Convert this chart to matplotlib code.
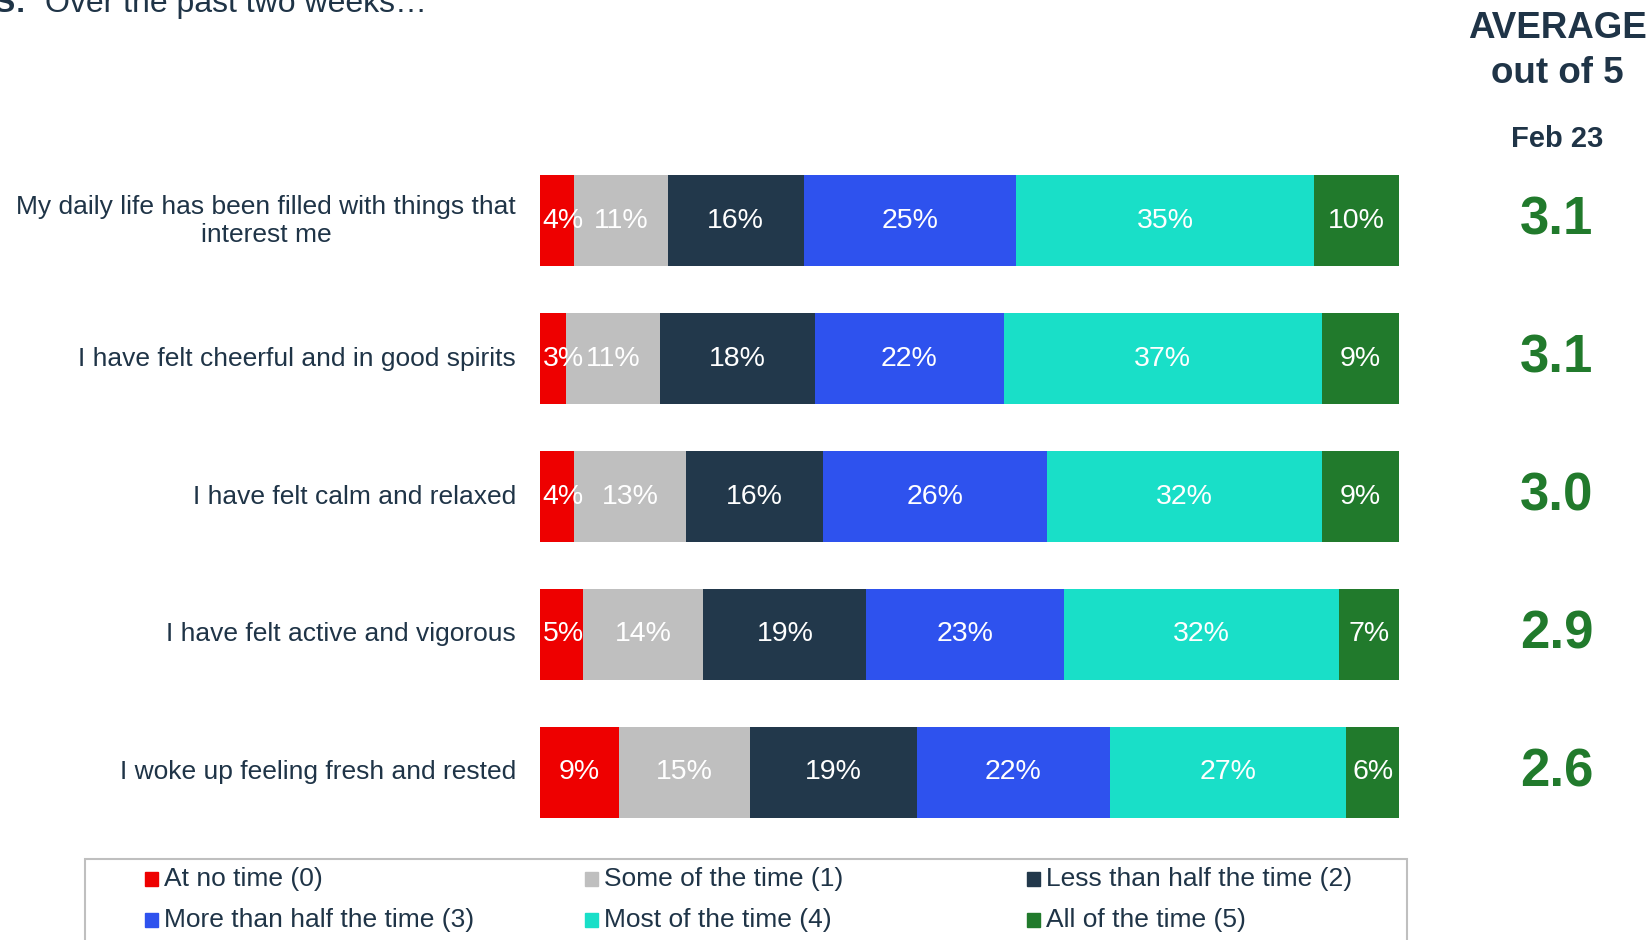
import matplotlib.pyplot as plt
import matplotlib.transforms as mtransforms
from matplotlib.patches import Rectangle

plt.rcParams['font.family'] = ['Liberation Sans', 'DejaVu Sans']

statements = [
    "My daily life has been filled with things that\ninterest me",
    "I have felt cheerful and in good spirits",
    "I have felt calm and relaxed",
    "I have felt active and vigorous",
    "I woke up feeling fresh and rested",
]
responses = [
    "At no time (0)", "Some of the time (1)", "Less than half the time (2)",
    "More than half the time (3)", "Most of the time (4)", "All of the time (5)",
]
at_no_time = [4, 3, 4, 5, 9]
some_time = [11, 11, 13, 14, 15]
less_half = [16, 18, 16, 19, 19]
more_half = [25, 22, 26, 23, 22]
most_time = [35, 37, 32, 32, 27]
all_time = [10, 9, 9, 7, 6]
averages = [3.1, 3.1, 3.0, 2.9, 2.6]

colors = ['#EE0000', '#BFBFBF', '#22384B', '#2E52EE', '#19DFC8', '#217A2C']
navy = '#1F3447'
green = '#217A2C'

W, H = 1648, 940
fig = plt.figure(figsize=(W / 100, H / 100), dpi=100)
ax = fig.add_axes([540 / W, 1 - 841 / H, 859 / W, 689 / H])

series = [at_no_time, some_time, less_half, more_half, most_time, all_time]
totals = [sum(col) for col in zip(*series)]
rows = range(len(statements))
left = [0.0] * len(statements)
for vals, col in zip(series, colors):
    widths = [v / t * 100 for v, t in zip(vals, totals)]
    bars = ax.barh(rows, widths, left=left, height=0.66, color=col)
    for b, v in zip(bars, vals):
        # keep the thin first segment's label from spilling off the left end
        cx = max(b.get_x() + b.get_width() / 2, 2.7)
        ax.text(cx, b.get_y() + b.get_height() / 2,
                f'{v}%', ha='center', va='center', color='white', fontsize=20.5)
    left = [l + w for l, w in zip(left, widths)]

ax.set_xlim(0, 100)
ax.set_ylim(len(statements) - 0.5, -0.5)
ax.axis('off')

for i, s in enumerate(statements):
    ax.text(-2.8, i, s, ha='right', va='center', multialignment='center',
            fontsize=19, color=navy)

# average column on the right
tr = mtransforms.blended_transform_factory(fig.transFigure, ax.transData)
for i, a in enumerate(averages):
    ax.text(1557 / W, i, f'{a:.1f}', transform=tr, ha='center', va='center',
            fontsize=38, fontweight='bold', color=green)

fig.text(1557 / W, 1 - 38 / H, 'AVERAGE', ha='center', va='baseline',
         fontsize=26.5, fontweight='bold', color=navy)
fig.text(1557 / W, 1 - 83 / H, 'out of 5', ha='center', va='baseline',
         fontsize=26.5, fontweight='bold', color=navy)
fig.text(1557 / W, 1 - 147 / H, 'Feb 23', ha='center', va='baseline',
         fontsize=21, fontweight='bold', color=navy)

# title, runs off the top edge
fig.text(27 / W, 1 - 12 / H, 'WORKERS:', ha='right', va='baseline',
         fontsize=23, fontweight='bold', color=navy)
fig.text(45 / W, 1 - 12 / H, 'Over the past two weeks\u2026', ha='left', va='baseline',
         fontsize=23, color=navy)

# legend box
fig.patches.append(Rectangle((85 / W, -0.05), (1407 - 85) / W, 0.05 + 1 - 859 / H,
                             transform=fig.transFigure, fill=False,
                             edgecolor='#BFBFBF', lw=1.5))
col_x = [145, 585, 1027]
row_y = [879, 920]
for k, (name, col) in enumerate(zip(responses, colors)):
    x = col_x[k % 3]
    y = row_y[k // 3]
    fig.patches.append(Rectangle((x / W, 1 - (y + 7) / H), 13 / W, 14 / H,
                                 transform=fig.transFigure, color=col))
    fig.text((x + 19) / W, 1 - y / H, name, ha='left', va='center',
             fontsize=19, color=navy)

fig.savefig('out.png', dpi=100)
